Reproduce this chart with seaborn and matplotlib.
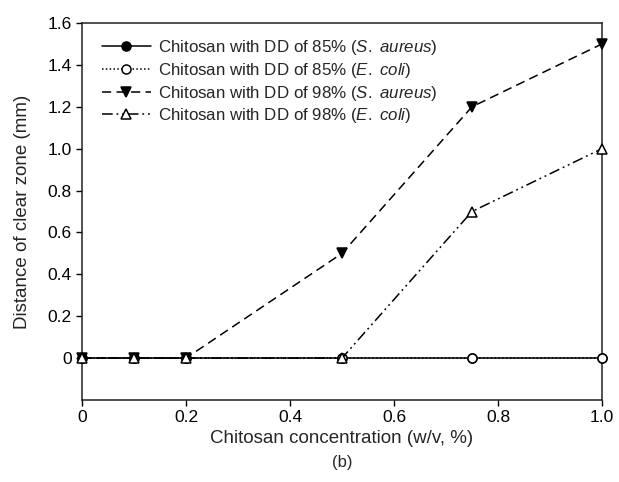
import numpy as np
import pandas as pd
import seaborn as sns
import matplotlib.pyplot as plt

# concentrations (w/v, %)
concentration = [0, 0.1, 0.2, 0.5, 0.75, 1.0]

dd85_aureus = [0, 0, 0, 0, 0, 0]
dd85_coli = [0, 0, 0, 0, 0, 0]
dd98_aureus = [0, 0, 0, 0.5, 1.2, 1.5]
dd98_coli = [0, 0, 0, 0, 0.7, 1.0]

labels = [
    r"Chitosan with DD of 85% ($\mathit{S.\ aureus}$)",
    r"Chitosan with DD of 85% ($\mathit{E.\ coli}$)",
    r"Chitosan with DD of 98% ($\mathit{S.\ aureus}$)",
    r"Chitosan with DD of 98% ($\mathit{E.\ coli}$)",
]

sns.set_theme(style="ticks")
plt.rcParams["font.family"] = ["Liberation Sans", "DejaVu Sans"]
plt.rcParams["mathtext.fontset"] = "custom"
plt.rcParams["mathtext.it"] = "Liberation Sans:italic"
plt.rcParams["mathtext.rm"] = "Liberation Sans"

fig = plt.figure(figsize=(6.19, 4.82), dpi=100)
ax = fig.add_axes([82 / 619, 1 - 400 / 482, 520 / 619, 377 / 482])

styles = [
    dict(marker="o", linestyle="-", markerfacecolor="black", markersize=6.5),
    dict(marker="o", linestyle=(0, (1, 1.5)), markerfacecolor="white", markersize=6.5),
    dict(marker="v", linestyle=(0, (6, 3.5)), markerfacecolor="black", markersize=7.5),
    dict(marker="^", linestyle=(0, (7, 2.5, 1.2, 2.5, 1.2, 2.5)), markerfacecolor="white", markersize=7.5),
]
series = [dd85_aureus, dd85_coli, dd98_aureus, dd98_coli]
order = [0, 2, 3, 1]
for i in order:
    df = pd.DataFrame({"x": concentration, "y": series[i]})
    sns.lineplot(data=df, x="x", y="y", ax=ax, color="black", linewidth=1.1,
                 markeredgecolor="black", markeredgewidth=1.1, label=labels[i],
                 zorder=3 + i, clip_on=False, **styles[i])

handles, labs = ax.get_legend_handles_labels()
lookup = dict(zip(labs, handles))
ax.legend([lookup[l] for l in labels], labels, loc="upper left", frameon=False,
          fontsize=12.2, handlelength=2.9, handletextpad=0.4, labelspacing=0.22,
          borderaxespad=0.0, borderpad=0.0, bbox_to_anchor=(0.038, 0.96))

ax.set_xlim(0, 1.0)
ax.set_ylim(-0.2, 1.6)
ax.set_xticks([0, 0.2, 0.4, 0.6, 0.8, 1.0])
ax.set_xticklabels(["0", "0.2", "0.4", "0.6", "0.8", "1.0"])
ax.set_yticks([0, 0.2, 0.4, 0.6, 0.8, 1.0, 1.2, 1.4, 1.6])
ax.set_yticklabels(["0", "0.2", "0.4", "0.6", "0.8", "1.0", "1.2", "1.4", "1.6"])
ax.tick_params(axis="both", direction="out", length=4, width=1, labelsize=12.5, colors="black")
for s in ax.spines.values():
    s.set_color("#222222")
    s.set_linewidth(1.1)

ax.set_xlabel("Chitosan concentration (w/v, %)", fontsize=13.5, labelpad=3)
ax.set_ylabel("Distance of clear zone (mm)", fontsize=13.5, labelpad=12)
fig.text((82 + 602) / 2 / 619, 1 - 462 / 482, "(b)", ha="center", va="center", fontsize=12)

fig.savefig("out.png", dpi=100)
